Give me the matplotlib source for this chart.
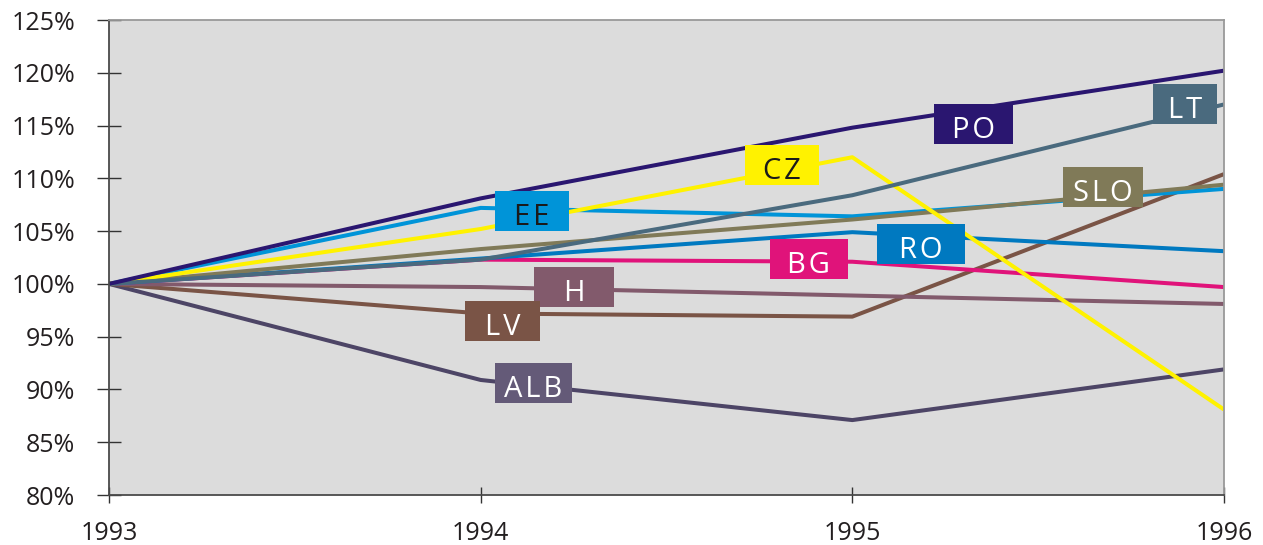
import matplotlib.pyplot as plt
from matplotlib.patches import Rectangle

plt.rcParams['font.family'] = ['Open Sans', 'DejaVu Sans']

years = [1993, 1994, 1995, 1996]

# index values, 1993 = 100%
series = {
    "ALB": [100, 90.9, 87.1, 91.9],
    "LV": [100, 97.2, 96.9, 110.4],
    "H": [100, 99.7, 98.9, 98.1],
    "BG": [100, 102.3, 102.1, 99.7],
    "RO": [100, 102.4, 104.9, 103.1],
    "EE": [100, 107.2, 106.4, 109.0],
    "SLO": [100, 103.3, 106.1, 109.4],
    "CZ": [100, 105.2, 112.0, 88.1],
    "LT": [100, 102.3, 108.4, 117.0],
    "PO": [100, 108.1, 114.8, 120.2],
}

line_colors = {
    "ALB": "#4d4566", "LV": "#7a5446", "H": "#825a6c", "BG": "#e0137a",
    "RO": "#0079c0", "EE": "#0094d8", "SLO": "#807a58", "CZ": "#fff200",
    "LT": "#4a6a7e", "PO": "#2a1670",
}
box_colors = dict(line_colors, ALB="#645a78")
text_colors = {k: "white" for k in series}
text_colors["EE"] = "#1a1a1a"
text_colors["CZ"] = "#1a1a1a"

# label box centres (year, %) and widths (years)
label_pos = {
    "EE": (1994.138, 106.9, 0.20), "CZ": (1994.811, 111.26, 0.20),
    "PO": (1995.325, 115.15, 0.213), "LT": (1995.895, 117.04, 0.17),
    "SLO": (1995.674, 109.18, 0.215), "RO": (1995.185, 103.78, 0.237),
    "BG": (1994.883, 102.36, 0.21), "H": (1994.251, 99.71, 0.215),
    "LV": (1994.060, 96.49, 0.202), "ALB": (1994.141, 90.61, 0.207),
}
box_h = 3.79

fig = plt.figure(figsize=(12.63, 5.45), dpi=100)
ax = fig.add_axes([0.0863, 0.0917, 0.8828, 0.8716])
ax.set_facecolor("#dcdcdc")

for name, vals in series.items():
    ax.plot(years, vals, color=line_colors[name], lw=2.9, solid_capstyle="butt", zorder=2)

for name, (cx, cy, w) in label_pos.items():
    ax.add_patch(Rectangle((cx - w / 2, cy - box_h / 2), w, box_h,
                           facecolor=box_colors[name], edgecolor="none", zorder=3))
    ax.text(cx, cy - 0.6, "\u200a".join(name), color=text_colors[name], fontsize=21,
            ha="center", va="center", zorder=4)

ax.set_xlim(1993, 1996)
ax.set_ylim(80, 125)
ax.set_xticks(years)
ax.set_xticklabels([str(y) for y in years])
yt = list(range(80, 126, 5))
ax.set_yticks(yt)
ax.set_yticklabels([f"{v}%" for v in yt])
ax.tick_params(axis="both", direction="inout", width=1.0, colors="#333333",
               labelsize=18, labelcolor="#231f20")
ax.tick_params(axis="x", length=11.5, pad=13)
ax.tick_params(axis="y", length=17, pad=16)

for s in ["left", "bottom"]:
    ax.spines[s].set_color("#4a4a4a")
    ax.spines[s].set_linewidth(1.3)
for s in ["top", "right"]:
    ax.spines[s].set_color("#999999")
    ax.spines[s].set_linewidth(1.3)

plt.savefig("out.png", dpi=100)
